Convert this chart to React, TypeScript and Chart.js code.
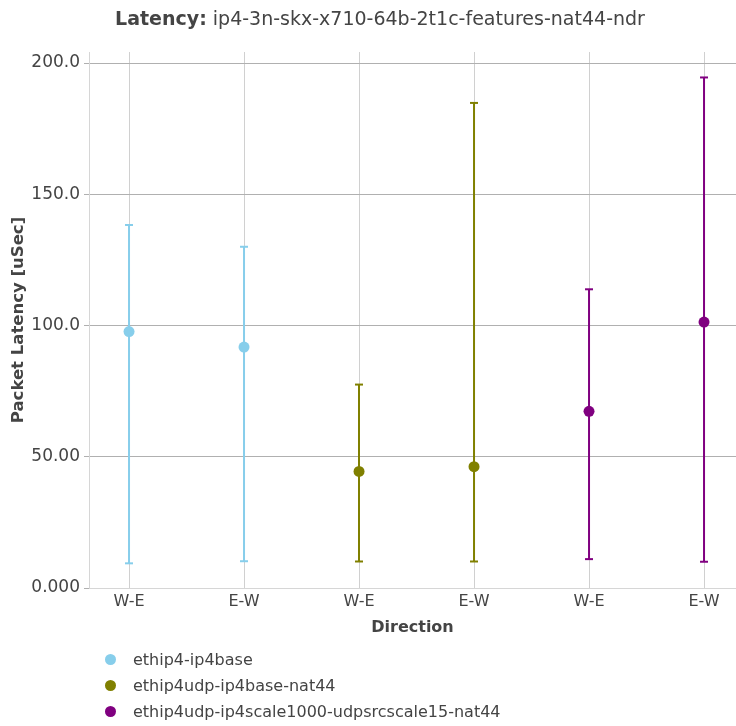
import React, { useEffect, useRef } from "react";
import { Chart, registerables } from "chart.js";

Chart.register(...registerables);

const categories = ["W-E", "E-W", "W-E", "E-W", "W-E", "E-W"];
const seriesNames = [
  "ethip4-ip4base",
  "ethip4udp-ip4base-nat44",
  "ethip4udp-ip4scale1000-udpsrcscale15-nat44",
];
const seriesColors = ["#87CEEB", "#808000", "#800080"];
// x positions (category index) of each series' points
const seriesX = [
  [0, 1],
  [2, 3],
  [4, 5],
];
const seriesAvg = [
  [97.7, 91.8],
  [44.4, 46.2],
  [67.3, 101.3],
];
const seriesMax = [
  [138.3, 130.0],
  [77.5, 184.8],
  [113.8, 194.5],
];
const seriesMin = [
  [9.4, 10.2],
  [10.1, 10.1],
  [11.0, 10.0],
];
const yTickLabels: Record<number, string> = {
  0: "0.000",
  50: "50.00",
  100: "100.0",
  150: "150.0",
  200: "200.0",
};

const FONT = "'DejaVu Sans', sans-serif";
const TEXT = "#444444";

export default function App() {
  const ref = useRef<HTMLCanvasElement | null>(null);

  useEffect(() => {
    if (!ref.current) return;
    const datasets: any[] = [];
    seriesNames.forEach((name, s) => {
      seriesX[s].forEach((x, i) => {
        datasets.push({
          type: "line",
          label: name + " err",
          data: [
            { x, y: seriesMin[s][i] },
            { x, y: seriesMax[s][i] },
          ],
          borderColor: seriesColors[s],
          backgroundColor: seriesColors[s],
          borderWidth: 2,
          pointStyle: "line",
          pointRadius: 4,
          pointBorderWidth: 2,
          pointBorderColor: seriesColors[s],
          pointHoverRadius: 4,
          showLine: true,
          order: 2,
        });
      });
    });
    seriesNames.forEach((name, s) => {
      datasets.push({
        type: "scatter",
        label: name,
        data: seriesX[s].map((x, i) => ({ x, y: seriesAvg[s][i] })),
        backgroundColor: seriesColors[s],
        borderColor: seriesColors[s],
        pointRadius: 5.5,
        pointBorderWidth: 0,
        pointStyle: "circle",
        order: 1,
      });
    });

    const chart = new Chart(ref.current, {
      type: "scatter",
      data: { datasets },
      options: {
        animation: false,
        responsive: false,
        maintainAspectRatio: false,
        layout: { autoPadding: false, padding: { top: 52, right: 0, bottom: 89, left: 0 } },
        plugins: {
          legend: { display: false },
          title: { display: false },
          tooltip: { enabled: false },
        },
        scales: {
          x: {
            type: "linear",
            min: -0.348,
            max: 5.278,
            afterBuildTicks: (scale: any) => {
              scale.ticks = categories.map((_, i) => ({ value: i }));
            },
            afterFit: (scale: any) => {
              scale.height = 49;
              scale.paddingLeft = 0;
              scale.paddingRight = 0;
            },
            ticks: {
              autoSkip: false,
              maxRotation: 0,
              padding: 4,
              color: TEXT,
              font: { family: FONT, size: 16 },
              callback: (v: any) => categories[Math.round(Number(v))] ?? "",
            },
            grid: {
              color: "#d0d0d0",
              lineWidth: 1,
              drawTicks: false,
              tickLength: 0,
            },
            border: { display: true, color: "#d6d6d6", width: 1 },
            title: {
              display: true,
              text: "Direction",
              color: TEXT,
              font: { family: FONT, size: 16, weight: "bold" },
              padding: { top: 0, bottom: 0 },
            },
          },
          y: {
            type: "linear",
            min: 0,
            max: 204.2,
            afterBuildTicks: (scale: any) => {
              scale.ticks = [0, 50, 100, 150, 200].map((v) => ({ value: v }));
            },
            afterFit: (scale: any) => {
              scale.width = 89;
            },
            ticks: {
              padding: 4,
              color: TEXT,
              font: { family: FONT, size: 17 },
              callback: (v: any) => yTickLabels[Number(v)] ?? "",
            },
            grid: {
              color: (ctx: any) => (ctx.tick && ctx.tick.value === 0 ? "#d6d6d6" : "#b0b0b0"),
              lineWidth: 1,
              drawTicks: true,
              tickLength: 5,
              tickColor: "#b0b0b0",
            },
            border: { display: true, color: "#d6d6d6", width: 1 },
            title: {
              display: true,
              text: "Packet Latency [uSec]",
              color: TEXT,
              font: { family: FONT, size: 16.5, weight: "bold" },
              padding: { top: 9, bottom: 0 },
            },
          },
        },
      },
    });
    return () => chart.destroy();
  }, []);

  return (
    <div style={{ position: "absolute", left: 0, top: 0, width: 736, height: 726, background: "#fff", overflow: "hidden" }}>
      <canvas ref={ref} width={736} height={726} style={{ position: "absolute", left: 0, top: 0 }} />
      <div
        style={{
          position: "absolute",
          left: 0,
          top: 6,
          width: 760,
          textAlign: "center",
          fontFamily: FONT,
          fontSize: 19,
          lineHeight: "24px",
          color: TEXT,
          whiteSpace: "nowrap",
        }}
      >
        <b>Latency:</b> ip4-3n-skx-x710-64b-2t1c-features-nat44-ndr
      </div>
      <div style={{ position: "absolute", left: 105, top: 646, fontFamily: FONT, fontSize: 16, color: TEXT }}>
        {seriesNames.map((n, s) => (
          <div key={n} style={{ display: "flex", alignItems: "center", height: 26, whiteSpace: "nowrap" }}>
            <span
              style={{
                display: "inline-block",
                width: 11,
                height: 11,
                borderRadius: "50%",
                background: seriesColors[s],
                marginRight: 17,
              }}
            />
            <span>{n}</span>
          </div>
        ))}
      </div>
    </div>
  );
}
